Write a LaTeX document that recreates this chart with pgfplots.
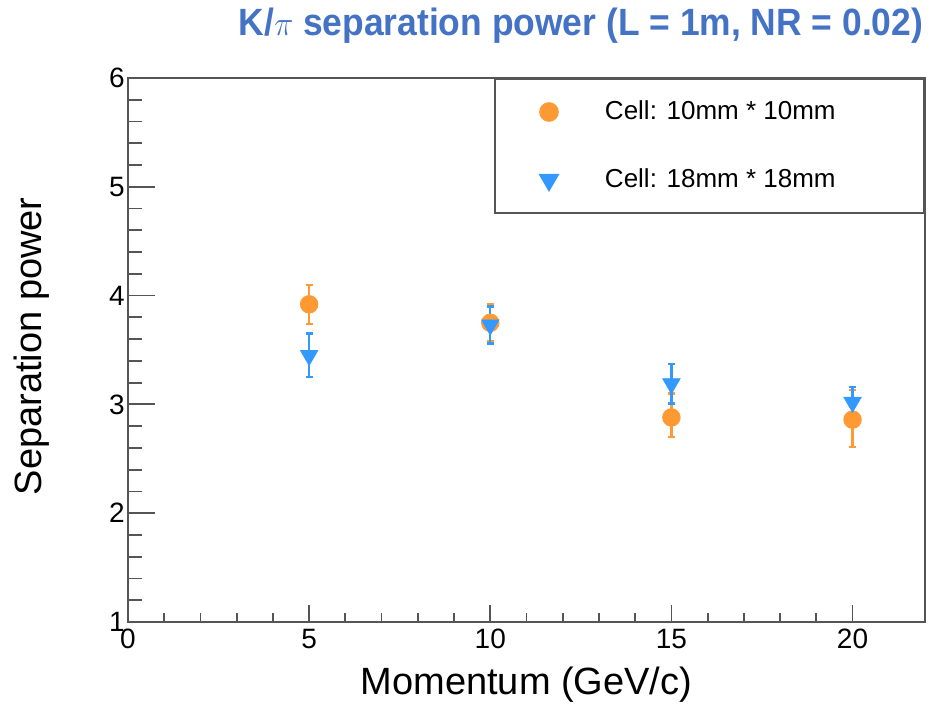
\documentclass[border=0pt]{standalone}
\usepackage{graphicx}
\usepackage{pgfplots}
\pgfplotsset{compat=1.18}
\usepackage{fontspec}
\setmainfont{Liberation Sans}

\definecolor{titleblue}{RGB}{68,114,196}
\definecolor{cellsmall}{RGB}{255,153,51}
\definecolor{cellbig}{RGB}{51,153,255}
\definecolor{framegray}{RGB}{85,85,85}

\pgfplotsset{
  sepframe/.style={
    scale only axis, width=398.5pt, height=272pt,
    xmin=0, xmax=22, ymin=1, ymax=6,
    tick align=inside,
    axis line style={draw=framegray, line width=1pt},
    every tick/.style={draw=framegray, line width=0.9pt},
    /pgf/number format/assume math mode=true,
    tick label style={font=\fontsize{14}{16}\selectfont},
  },
  errstyle/.style={
    error bars/y dir=both, error bars/y explicit,
    error bars/error bar style={line width=1.2pt},
    error bars/error mark options={rotate=90, mark size=1.8pt, line width=1.2pt},
  },
}

\begin{document}
\begin{tikzpicture}
\path[use as bounding box] (-64pt,-41.5pt) rectangle (400pt,311pt);
% x axis ticks (shorter, ROOT-like)
\begin{axis}[sepframe,
  xtick={0,5,10,15,20}, minor x tick num=4, xtick pos=left,
  major tick length=8.5pt, minor tick length=4.5pt,
  ytick=\empty,
]
\end{axis}
% y axis ticks, data and legend
\begin{axis}[sepframe,
  xtick=\empty, ytick={1,2,3,4,5,6}, minor y tick num=4, ytick pos=left,
  major tick length=13.5pt, minor tick length=7pt,
  yticklabel style={inner xsep=1.5pt},
  xlabel={Momentum (GeV/c)}, ylabel={Separation power},
  every axis x label/.style={at={(axis description cs:0.5,-0.116)}, anchor=center,
    font=\fontsize{19}{22}\selectfont},
  every axis y label/.style={at={(axis description cs:-0.1205,0.507)}, anchor=center,
    rotate=90, font=\fontsize{19}{22}\selectfont},
  title={\scalebox{0.932}[1]{K/$\pi$ separation power (L = 1m, NR = 0.02)}},
  every axis title/.style={at={(axis description cs:0.5684,1.0956)}, anchor=center,
    font=\bfseries\fontsize{19}{22}\selectfont, text=titleblue},
  legend cell align=left,
  legend style={at={(1,1)}, anchor=north east, draw=framegray, line width=1pt,
    inner xsep=0pt, inner ysep=0pt, row sep=1pt,
    font=\fontsize{13}{15}\selectfont,
    nodes={inner xsep=2pt, inner ysep=0pt, minimum height=33pt}},
  legend image code/.code={\path (0pt,0pt) (52pt,0pt); \draw[#1] plot coordinates {(26.5pt,0pt)};},
]
\addplot[only marks, color=cellsmall, mark=*, mark size=4.4pt,
  mark options={draw=cellsmall, fill=cellsmall}, errstyle]
  coordinates {
    (5,3.92)  +- (0,0.18)
    (10,3.75) +- (0,0.17)
    (15,2.88) += (0,0.22) -= (0,0.18)
    (20,2.86) += (0,0.27) -= (0,0.25)
  };
\addlegendentry{\makebox[157.5pt][l]{Cell: 10mm * 10mm}}
\addplot[only marks, color=cellbig, mark=triangle*, mark size=5pt,
  mark options={draw=cellbig, fill=cellbig, rotate=180}, errstyle]
  coordinates {
    (5,3.45)  +- (0,0.20)
    (10,3.73) +- (0,0.17)
    (15,3.19) +- (0,0.18)
    (20,3.02) += (0,0.14) -= (0,0.20)
  };
\addlegendentry{\makebox[157.5pt][l]{Cell: 18mm * 18mm}}
\end{axis}
\end{tikzpicture}
\end{document}
